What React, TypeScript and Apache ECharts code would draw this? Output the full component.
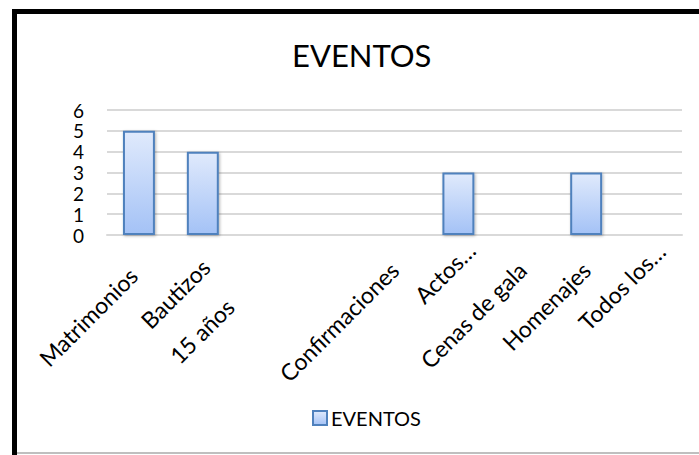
import React, { useEffect, useRef } from "react";
import * as echarts from "echarts";

const categories = [
  "Matrimonios",
  "Bautizos",
  "15 años",
  "",
  "Confirmaciones",
  "Actos…",
  "Cenas de gala",
  "Homenajes",
  "Todos los…",
];
const values: (number | null)[] = [5, 4, null, null, null, 3, null, 3, null];
const seriesName = "EVENTOS";
const chartTitle = "EVENTOS";
const yMin = 0;
const yMax = 6;
const yInterval = 1;

// per-label nudges of the rotated category labels (px)
const labelPadRight = [8, -4, 52, 0, 0, -23, 0, 0, -21];
const labelPadBottom = [0, 0, 0, 0, 0, 10, 0, 0, 11];

export default function App() {
  const ref = useRef<HTMLDivElement>(null);
  useEffect(() => {
    const chart = echarts.init(ref.current!, null, { renderer: "svg" });
    const font = "Lato";
    const barFill = new echarts.graphic.LinearGradient(0, 0, 0, 1, [
      { offset: 0, color: "#e0eafc" },
      { offset: 1, color: "#a4c2f6" },
    ]);
    const rich: any = {};
    categories.forEach((_, i) => {
      rich["c" + i] = {
        fontFamily: font,
        fontSize: 23,
        color: "#000",
        padding: [0, labelPadRight[i], labelPadBottom[i], 0],
      };
    });
    chart.setOption({
      animation: false,
      backgroundColor: "#fff",
      title: {
        text: chartTitle,
        left: 287,
        top: 34,
        textStyle: { fontFamily: font, fontSize: 31, fontWeight: "normal", color: "#000" },
      },
      legend: {
        left: 307,
        top: 403,
        itemWidth: 14,
        itemHeight: 14,
        itemGap: 6,
        icon: "rect",
        data: [seriesName],
        textStyle: { fontFamily: font, fontSize: 20, color: "#000", padding: [0, 0, 0, -1] },
      },
      grid: { left: 107, right: 17, top: 110, bottom: 220 },
      xAxis: {
        type: "category",
        data: categories,
        axisLine: { lineStyle: { color: "#d9d9d9", width: 2 } },
        axisTick: { show: false },
        axisLabel: {
          interval: 0,
          rotate: 45,
          margin: 31,
          formatter: (v: string, i: number) => `{c${i}|${v}}`,
          rich,
        },
      },
      yAxis: {
        type: "value",
        min: yMin,
        max: yMax,
        interval: yInterval,
        axisLine: { show: false },
        axisTick: { show: false },
        splitLine: { lineStyle: { color: "#d9d9d9", width: 2 } },
        axisLabel: { margin: 23, fontFamily: font, fontSize: 19, color: "#000" },
      },
      series: [
        {
          type: "bar",
          name: seriesName,
          data: values,
          barWidth: "50%",
          itemStyle: {
            color: barFill,
            borderColor: "#4f81bd",
            borderWidth: 2,
            shadowColor: "rgba(0,0,0,0.3)",
            shadowBlur: 3,
            shadowOffsetX: 1,
            shadowOffsetY: 1,
          },
        },
      ],
      graphic: [
        { type: "rect", silent: true, shape: { x: 12, y: 9, width: 5, height: 446 }, style: { fill: "#000" } },
        { type: "rect", silent: true, shape: { x: 12, y: 9, width: 687, height: 5 }, style: { fill: "#000" } },
        { type: "rect", silent: true, shape: { x: 17, y: 452, width: 682, height: 2 }, style: { fill: "#bfbfbf" } },
      ],
    });
    return () => chart.dispose();
  }, []);
  return <div ref={ref} style={{ position: "fixed", left: 0, top: 0, width: 699, height: 455 }} />;
}
